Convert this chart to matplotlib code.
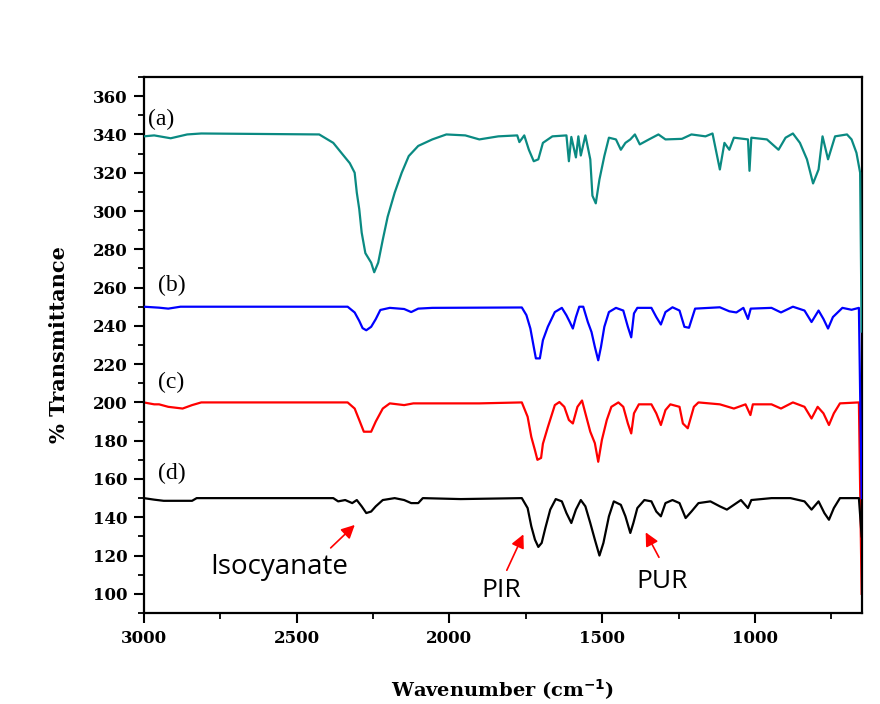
import matplotlib.pyplot as plt

# FTIR spectra, key points (wavenumber, %T offset)
wn_a = [3000, 2966, 2912, 2858, 2812, 2426, 2380, 2349, 2326, 2310, 2303, 2295, 2287, 2275,
        2256, 2246, 2233, 2218, 2202, 2179, 2156, 2133, 2102, 2056, 2010, 1948, 1902, 1840,
        1778, 1771, 1755, 1740, 1724, 1709, 1694, 1663, 1617, 1609, 1601, 1586, 1578, 1570,
        1555, 1539, 1532, 1521, 1509, 1493, 1478, 1455, 1439, 1424, 1408, 1393, 1377, 1347,
        1316, 1293, 1239, 1208, 1162, 1139, 1115, 1100, 1084, 1069, 1023, 1018, 1012, 961,
        923, 900, 876, 853, 830, 810, 792, 779, 761, 738, 699, 684, 668, 656, 651]
t_a = [339, 339.5, 338, 340, 340.5, 340, 335.6, 329.5, 325, 320, 309.6, 301, 288.7, 278,
       273, 268, 273, 285, 297, 309.6, 320, 328.7, 334, 337.4, 340, 339.5, 337.4, 339,
       339.5, 336, 339.5, 332, 326, 327, 335.6, 339, 339.5, 326, 338.7, 328, 339, 329,
       339.5, 327, 308, 304, 316.5, 328.7, 338.3, 337.4, 332, 335.6, 337.4, 340, 334.8, 337.4,
       340, 337.4, 337.7, 340, 339, 340.5, 321.7, 335.6, 332, 338.3, 337.4, 321, 338.3, 337.4,
       332, 338.3, 340.5, 335.6, 327, 314.4, 321.7, 339, 327, 339, 340, 337.4, 330.4, 320, 237]

wn_b = [3000, 2950, 2920, 2880, 2333, 2310, 2295, 2284, 2272, 2256, 2241, 2226, 2195, 2148,
        2125, 2102, 2056, 1763, 1748, 1735, 1724, 1717, 1704, 1694, 1678, 1655, 1632, 1617,
        1606, 1596, 1586, 1575, 1562, 1547, 1535, 1524, 1513, 1504, 1493, 1478, 1455, 1431,
        1416, 1405, 1396, 1385, 1339, 1323, 1308, 1293, 1270, 1247, 1231, 1216, 1196, 1115,
        1084, 1061, 1038, 1023, 1014, 946, 915, 876, 838, 815, 792, 776, 761, 745, 714, 684,
        660, 651]
t_b = [250, 249.5, 249, 250, 250, 247, 242.6, 238.8, 237.7, 239.5, 243.5, 248.3, 249.4, 248.8,
       247.2, 249, 249.4, 249.6, 245.6, 238.6, 229, 223, 223, 232.5, 239.5, 247.2, 249.4, 245.5,
       242, 238.6, 244.6, 250, 250, 242, 236.8, 229, 222, 229, 239.5, 247.2, 249.4, 248,
       239.5, 234, 246.5, 249.4, 249.4, 244.6, 240.7, 247.2, 249.7, 248, 239.5, 239, 249, 249.7,
       247.6, 247, 249.4, 243.6, 249, 249.4, 247, 250, 248, 242, 248, 243.6, 238.6, 244.6, 249.4, 248.4,
       249.4, 150]

wn_c = [3000, 2966, 2950, 2920, 2873, 2842, 2812, 2333, 2310, 2295, 2280, 2256, 2241, 2218,
        2195, 2148, 2118, 1902, 1763, 1744, 1732, 1720, 1712, 1700, 1694, 1678, 1655, 1640,
        1624, 1609, 1596, 1581, 1566, 1555, 1539, 1524, 1513, 1501, 1485, 1470, 1447, 1431,
        1416, 1405, 1396, 1380, 1339, 1323, 1308, 1293, 1277, 1247, 1236, 1220, 1200, 1185,
        1115, 1069, 1031, 1015, 1007, 946, 915, 876, 838, 815, 795, 776, 758, 742, 722, 660, 651]
t_c = [200, 199, 199, 197.7, 196.8, 198.6, 200, 200, 196.8, 190.8, 184.7, 184.7, 190, 196.8,
       199.5, 198.6, 199.5, 199.5, 200, 192.5, 182, 175, 170, 171, 178.4, 187, 198.6, 200.2,
       197.7, 190.8, 189, 197.7, 201, 194.3, 184.7, 178.7, 169, 180.4, 190.8, 197.7, 200, 197.7,
       189, 183.8, 194.3, 199, 199, 194.3, 188.2, 196, 199, 197.7, 189, 186.5, 197.7, 200,
       199, 196.8, 199, 193.4, 199, 199, 196.8, 200, 197.7, 191.6, 197.7, 194.3, 188.2, 194.3, 199.5, 200, 100]

wn_d = [3000, 2966, 2935, 2842, 2827, 2380, 2364, 2341, 2318, 2303, 2287, 2272, 2256, 2241,
        2218, 2179, 2148, 2125, 2102, 2087, 1963, 1763, 1744, 1732, 1720, 1709, 1698, 1686,
        1670, 1652, 1632, 1617, 1601, 1586, 1570, 1555, 1539, 1524, 1509, 1496, 1478, 1462,
        1439, 1424, 1408, 1398, 1385, 1362, 1339, 1323, 1308, 1293, 1270, 1247, 1227, 1208,
        1185, 1146, 1115, 1092, 1069, 1046, 1023, 1012, 946, 884, 838, 815, 792, 773, 758,
        742, 722, 660, 651]
t_d = [150, 149.2, 148.6, 148.6, 150, 150, 148.3, 149, 147.4, 149, 145.7, 142.2, 143, 145.7,
       149, 150, 149, 147.4, 147.4, 150, 149.5, 150, 144.8, 135.3, 128.3, 124.5, 126.6, 134.4,
       144, 149.5, 148.3, 142.2, 137, 144, 149, 145.7, 137, 128.3, 120, 126.6, 140.5, 148.3,
       146.5, 140.5, 131.8, 137, 144.8, 149, 148.3, 143, 140.5, 147.4, 149, 147.4, 139.6, 143,
       147.4, 148.3, 145.7, 144, 146.5, 149, 144.8, 149, 150, 150, 148.3, 144, 148.3, 142.2, 138.7,
       144.8, 150, 150, 130]

curve_labels = ['(a)', '(b)', '(c)', '(d)']
label_x = [2985, 2955, 2955, 2955]
label_y = [348, 261, 210.5, 163]

fig = plt.figure(figsize=(8.8, 7.04), dpi=100)
ax = fig.add_axes([0.1634, 0.1293, 0.8161, 0.7613])

ax.plot(wn_c, t_c, color='#ff0000', lw=1.6, zorder=2)
ax.plot(wn_b, t_b, color='#0000ff', lw=1.6, zorder=3)
ax.plot(wn_a, t_a, color='#0a8a82', lw=1.6, zorder=3)
ax.plot(wn_d, t_d, color='black', lw=1.6, zorder=4)

for lab, lx, ly in zip(curve_labels, label_x, label_y):
    ax.text(lx, ly, lab, family='Liberation Serif', fontsize=17, ha='left', va='center')

ax.set_xlim(3000, 650)
ax.set_ylim(90, 370)
ax.set_xticks([3000, 2500, 2000, 1500, 1000])
ax.set_xticks([2750, 2250, 1750, 1250, 750], minor=True)
ax.set_yticks(range(100, 361, 20))
ax.set_yticks(range(90, 371, 10), minor=True)

for sp in ax.spines.values():
    sp.set_linewidth(1.6)
ax.tick_params(which='major', direction='out', length=7, width=1.5, pad=5)
ax.tick_params(which='minor', direction='out', length=4, width=1.3)
for t in ax.get_xticklabels() + ax.get_yticklabels():
    t.set_family('DejaVu Serif')
    t.set_fontweight('bold')
    t.set_fontsize(12)

ax.set_xlabel('Wavenumber (cm$^{\\mathbf{-1}}$)', family='DejaVu Serif', fontweight='bold',
              fontsize=14, labelpad=22)
ax.set_ylabel('% Transmittance', family='DejaVu Serif', fontweight='bold',
              fontsize=15, labelpad=17)

# peak annotations
arrow = dict(arrowstyle='-|>', color='red', lw=1.2, mutation_scale=20)
ax.annotate('', xy=(2303, 137), xytext=(2395, 123), arrowprops=arrow)
ax.annotate('', xy=(1754, 132.4), xytext=(1816, 111), arrowprops=arrow)
ax.annotate('', xy=(1362, 133.4), xytext=(1310, 117.8), arrowprops=arrow)
ax.text(2558, 114, 'Isocyanate', family='Open Sans', fontsize=20, ha='center', va='center')
ax.text(1829, 102, 'PIR', family='Open Sans', fontsize=19, ha='center', va='center')
ax.text(1303, 106.5, 'PUR', family='Open Sans', fontsize=19, ha='center', va='center')

fig.savefig('out.png', dpi=100)
